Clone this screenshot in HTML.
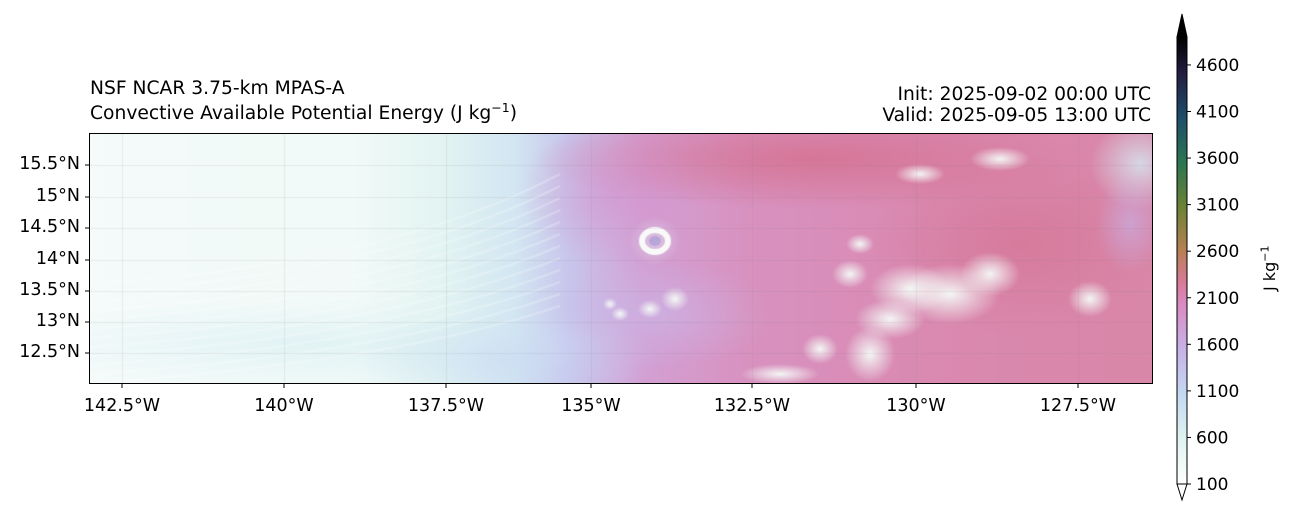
<!DOCTYPE html>
<html><head><meta charset="utf-8">
<style>
body{margin:0;background:#fff;width:1299px;height:520px;overflow:hidden;position:relative;font-family:"DejaVu Sans","Liberation Sans",sans-serif;color:#000}
.t{position:absolute;font-size:18.7px;white-space:nowrap;line-height:21px}
.lab{position:absolute;font-size:17.5px;white-space:nowrap;line-height:21px}
</style></head><body>
<div class="t" style="left:90px;top:78px">NSF NCAR 3.75-km MPAS-A</div>
<div class="t" style="left:90px;top:103px">Convective Available Potential Energy (J kg<sup style="font-size:12.5px;line-height:0">−1</sup>)</div>
<div class="t" style="right:148px;top:84px;text-align:right">Init: 2025-09-02 00:00 UTC</div>
<div class="t" style="right:148px;top:105px;text-align:right">Valid: 2025-09-05 13:00 UTC</div>
<canvas id="map" width="1062" height="249" style="position:absolute;left:90px;top:134px"></canvas>
<div style="position:absolute;left:89px;top:133px;width:1062px;height:249px;border:1px solid #000"></div>
<div id="labels"></div>
<svg id="cb" width="100" height="520" style="position:absolute;left:1170px;top:0"></svg>
<div class="lab" style="left:1259px;top:291px;transform:rotate(-90deg);transform-origin:left top;font-size:16px">J kg<sup style="font-size:11px;line-height:0">−1</sup></div>
<script>
const cbTicks=[100,600,1100,1600,2100,2600,3100,3600,4100,4600];
const latTicks=["15.5°N","15°N","14.5°N","14°N","13.5°N","13°N","12.5°N"];
const latY=[165,197,228,260,291,322,353];
const lonTicks=["142.5°W","140°W","137.5°W","135°W","132.5°W","130°W","127.5°W"];
const lonX=[122,284,446,591,752,916,1078];
const cmapStops=[[0,"#ffffff"],[0.1,"#dff3f0"],[0.2,"#c3d9f2"],[0.3,"#c7b2e8"],[0.4,"#d88cc3"],[0.45,"#d97a9a"],[0.52,"#b88055"],[0.62,"#6b8235"],[0.72,"#2c7551"],[0.82,"#1e4d6b"],[0.92,"#221d40"],[1,"#000000"]];
const L=document.getElementById('labels');
latTicks.forEach((s,i)=>{const d=document.createElement('div');d.className='lab';d.textContent=s;


d.style.right=(1299-80)+'px';d.style.top=(latY[i]-11)+'px';L.appendChild(d);});
lonTicks.forEach((s,i)=>{const d=document.createElement('div');d.className='lab';d.textContent=s;


d.style.left=(lonX[i]-50)+'px';d.style.width='100px';d.style.textAlign='center';d.style.top='396px';L.appendChild(d);});
const ns="http://www.w3.org/2000/svg",cb=document.getElementById('cb');
const vmin=100,vmax=4900,yb=484,yt=37,X0=7,W=10;
const yv=v=>yb-(v-vmin)/(vmax-vmin)*(yb-yt);
let g=`<defs><linearGradient id="gr" x1="0" y1="1" x2="0" y2="0">`+cmapStops.map(s=>`<stop offset="${s[0]}" stop-color="${s[1]}"/>`).join('')+`</linearGradient></defs>`;
g+=`<polygon points="${X0},${yb} ${X0+W},${yb} ${X0+W/2},500" fill="#fff" stroke="#000"/>`;
g+=`<polygon points="${X0},${yt} ${X0+W},${yt} ${X0+W/2},14" fill="#000" stroke="#000"/>`;
g+=`<rect x="${X0}" y="${yt}" width="${W}" height="${yb-yt}" fill="url(#gr)" stroke="#000"/>`;
cb.innerHTML=g;
cbTicks.forEach(v=>{const y=yv(v);
const l=document.createElementNS(ns,'line');l.setAttribute('x1',X0+W);l.setAttribute('x2',X0+W+4);l.setAttribute('y1',y);l.setAttribute('y2',y);l.setAttribute('stroke','#000');


cb.appendChild(l);
const t=document.createElementNS(ns,'text');t.setAttribute('x',X0+W+9);t.setAttribute('y',y+6);t.setAttribute('font-size','17');t.setAttribute('font-family','DejaVu Sans, sans-serif');t.textContent=v;


cb.appendChild(t);});
const c=document.getElementById('map').getContext('2d');
let bg=c.createLinearGradient(0,0,1062,0);
bg.addColorStop(0,"#f4fbfa");bg.addColorStop(0.25,"#f1faf8");bg.addColorStop(0.33,"#e3f4f2");bg.addColorStop(0.4,"#d3e6f2");
bg.addColorStop(0.45,"#c8c6ec");bg.addColorStop(0.52,"#d3a0d4");bg.addColorStop(0.62,"#d892c0");bg.addColorStop(0.8,"#da89b0");bg.addColorStop(1,"#d987a8");
c.fillStyle=bg;c.fillRect(0,0,1062,249);
function blob(x,y,rx,ry,col,a){c.save();c.globalAlpha=a;c.translate(x,y);c.scale(rx,ry);let r=c.createRadialGradient(0,0,0,0,0,1);r.addColorStop(0,col);r.addColorStop(1,col.replace(')',',0)').replace('rgb','rgba'));c.fillStyle=r;c.beginPath();c.arc(0,0,1,0,7);c.fill();c.restore();}
blob(720,25,280,50,"rgb(213,112,142)",0.8);blob(930,110,150,90,"rgb(213,112,142)",0.55);
blob(520,60,90,70,"rgb(215,140,200)",0.5);
blob(220,210,300,45,"rgb(215,238,242)",0.6);blob(420,225,150,50,"rgb(200,218,245)",0.55);
blob(1050,30,50,45,"rgb(215,235,245)",0.8);blob(1040,90,35,50,"rgb(200,180,235)",0.6);
blob(570,180,110,55,"rgb(200,190,238)",0.5);
const clouds=[[820,155,40,25],[860,160,50,30],[800,185,35,20],[780,220,25,28],[900,140,30,22],[730,215,18,15],[585,165,14,12],[560,175,12,9],[530,180,9,7],[520,170,7,6],[910,25,30,12],[830,40,25,10],[1000,165,22,18],[760,140,18,14],[690,240,40,10],[770,110,14,10]];
clouds.forEach(b=>blob(b[0],b[1],b[2],b[3],"rgb(245,252,248)",0.95));
blob(565,107,26,24,"rgb(230,240,245)",0.5);
c.strokeStyle="rgba(250,253,250,0.95)";c.lineWidth=6;c.beginPath();c.ellipse(565,107,13,11,0,0,7);c.stroke();
c.fillStyle="#b8a6d8";c.beginPath();c.ellipse(565,107,6,5,0,0,7);c.fill();
c.strokeStyle="rgba(255,255,255,0.25)";c.lineWidth=2;
for(let i=0;i<12;i++){c.beginPath();c.moveTo(0,150+i*9);c.quadraticCurveTo(300,130+i*9,470,40+i*12);c.stroke();}
c.strokeStyle="rgba(120,120,120,0.12)";c.lineWidth=1;
lonX.forEach(x=>{c.beginPath();c.moveTo(x-90+.5,0);c.lineTo(x-90+.5,249);c.stroke();});
latY.forEach(y=>{c.beginPath();c.moveTo(0,y-134+.5);c.lineTo(1062,y-134+.5);c.stroke();});
const T=document.createElementNS(ns,'svg');T.setAttribute('width',1299);T.setAttribute('height',520);T.style.position='absolute';T.style.left='0';T.style.top='0';


let s='';latY.forEach(y=>s+=`<line x1="85" x2="89" y1="${y}" y2="${y}" stroke="#000"/>`);
lonX.forEach(x=>s+=`<line x1="${x}" x2="${x}" y1="383" y2="388" stroke="#000"/>`);
T.innerHTML=s;document.body.appendChild(T);
</script>
</body></html>
